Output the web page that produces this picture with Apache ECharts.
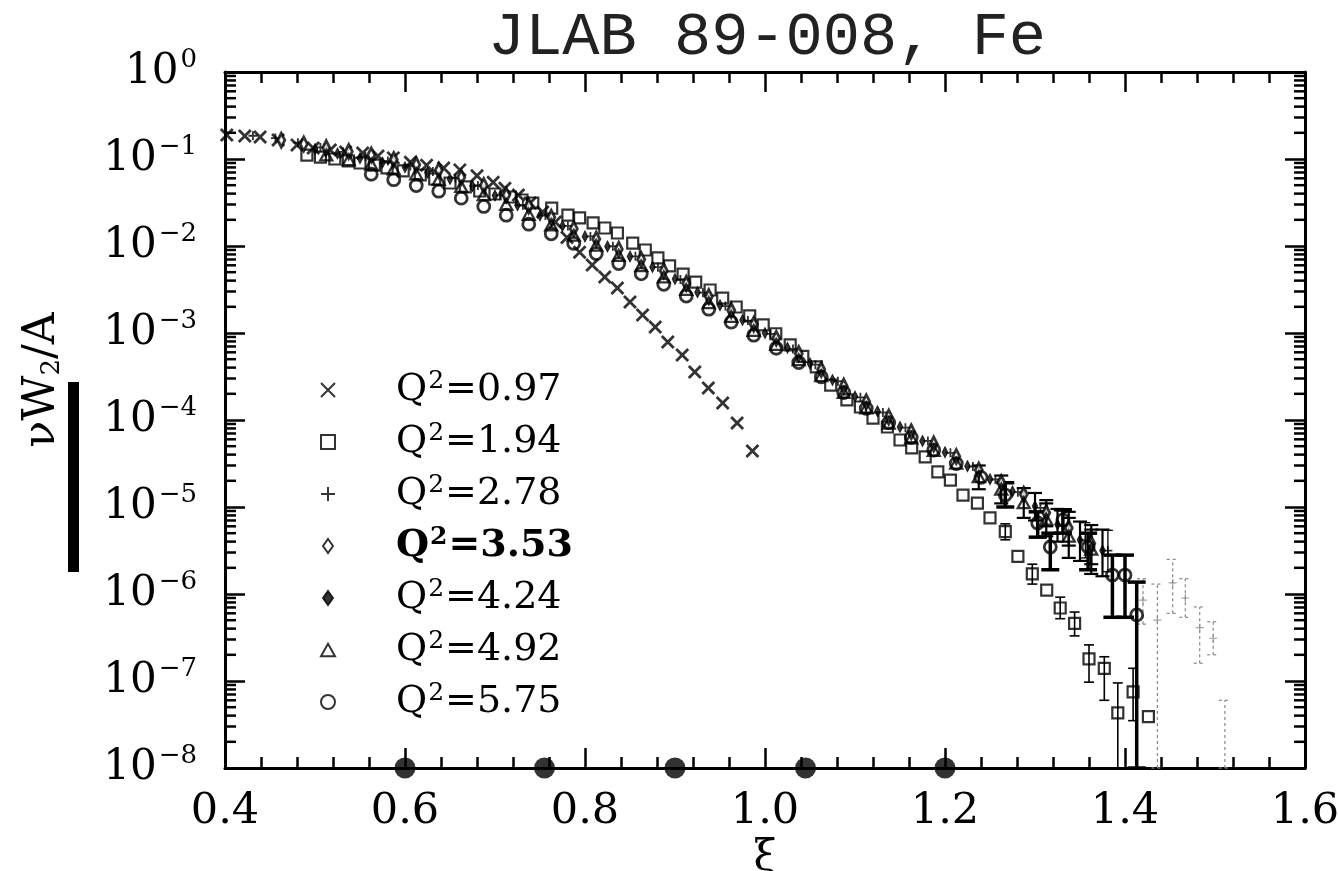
<!DOCTYPE html>
<html>
<head>
<meta charset="utf-8">
<script src="https://cdn.jsdelivr.net/npm/echarts@6/dist/echarts.min.js"></script>
<style>
  html, body { margin: 0; padding: 0; background: #fff; }
  #chart { width: 1338px; height: 871px; }
</style>
</head>
<body>
<div id="chart"></div>
<script>
// axis ticks
const xiTicks = [0.4, 0.6, 0.8, 1.0, 1.2, 1.4, 1.6];
const decades = [-8, -7, -6, -5, -4, -3, -2, -1];
const minorMantissas = [2, 3, 4, 5, 6, 7, 8, 9];

const legendNames = ['Q²=0.97', 'Q²=1.94', 'Q²=2.78', 'Q²=3.53', 'Q²=4.24', 'Q²=4.92', 'Q²=5.75'];

// [xi, nuW2/A]
const q097 = [[0.402,0.189],[0.422,0.184],[0.439,0.179],[0.459,0.165],[0.480,0.145],[0.498,0.134],[0.517,0.127],[0.534,0.120],[0.553,0.117],[0.570,0.108],[0.587,0.103],[0.606,0.092],[0.624,0.085],[0.643,0.079],[0.661,0.075],[0.680,0.064],[0.698,0.054],[0.711,0.046],[0.726,0.0386],[0.739,0.0312],[0.753,0.0246],[0.767,0.0189],[0.780,0.0125],[0.794,0.0085],[0.808,0.00605],[0.822,0.00440],[0.836,0.00329],[0.850,0.00227],[0.864,0.00161],[0.878,0.00117],[0.892,0.00079],[0.908,0.00056],[0.922,0.000356],[0.937,0.000233],[0.953,0.000157],[0.969,0.0000924],[0.986,0.0000440]];

const q194 = [[0.491,0.111],[0.506,0.105],[0.522,0.100],[0.537,0.095],[0.550,0.090],[0.566,0.085],[0.580,0.079],[0.598,0.073],[0.617,0.0655],[0.633,0.0589],[0.650,0.0530],[0.667,0.0477],[0.683,0.0429],[0.700,0.0396],[0.717,0.0366],[0.730,0.0338],[0.742,0.0312],[0.763,0.0273],[0.781,0.0227],[0.794,0.0210],[0.809,0.0184],[0.822,0.0161],[0.836,0.0141],[0.853,0.0108],[0.867,0.0090],[0.881,0.0073],[0.894,0.0059],[0.909,0.00476],[0.923,0.00385],[0.939,0.00312],[0.953,0.00252],[0.968,0.00199],[0.983,0.00157],[0.998,0.00124],[1.012,0.00098],[1.028,0.00073],[1.042,0.00054],[1.057,0.000407],[1.073,0.000252],[1.091,0.000170],[1.106,0.000141],[1.120,0.000105],[1.136,0.0000831],[1.150,0.0000589],[1.163,0.0000477],[1.178,0.0000376],[1.192,0.0000253],[1.206,0.0000204],[1.220,0.0000137],[1.236,0.0000111],[1.250,0.0000075],[1.267,0.0000052],[1.281,0.0000027],[1.297,0.0000017],[1.313,0.00000111],[1.328,0.00000069],[1.344,0.00000046],[1.360,0.00000018],[1.377,0.00000014],[1.392,0.000000043],[1.409,0.000000075],[1.426,0.000000039]];

const q278 = [[0.431,0.185],[0.456,0.174],[0.481,0.154],[0.506,0.136],[0.531,0.121],[0.556,0.107],[0.581,0.0948],[0.606,0.0832],[0.631,0.0719],[0.656,0.0603],[0.681,0.0495],[0.706,0.0383],[0.731,0.0295],[0.756,0.0224],[0.781,0.0170],[0.806,0.0129],[0.831,0.00993],[0.856,0.00760],[0.881,0.00571],[0.906,0.00411],[0.931,0.00291],[0.956,0.00204],[0.981,0.00139],[1.006,0.000977],[1.031,0.000656],[1.056,0.000432],[1.081,0.000279],[1.106,0.000182],[1.131,0.000122],[1.156,0.0000817],[1.181,0.0000575],[1.206,0.0000419],[1.231,0.0000292],[1.256,0.0000207],[1.281,0.0000148],[1.306,0.00000977],[1.331,0.00000612],[1.356,0.00000417],[1.381,0.00000316]];

// faint high-xi points of the same set
const q278tail = [[1.420,8.5e-7],[1.436,5.0e-7],[1.453,1.34e-6],[1.467,9.0e-7],[1.483,4.1e-7],[1.498,3.1e-7]];

const q353 = [[0.4625,0.164],[0.4875,0.149],[0.5125,0.135],[0.5375,0.122],[0.5625,0.111],[0.5875,0.0984],[0.6125,0.0861],[0.6375,0.0741],[0.6625,0.0617],[0.6875,0.0495],[0.7125,0.0385],[0.7375,0.0288],[0.7625,0.0214],[0.7875,0.0158],[0.8125,0.0120],[0.8375,0.00918],[0.8625,0.00700],[0.8875,0.00519],[0.9125,0.00372],[0.9375,0.00263],[0.9625,0.00182],[0.9875,0.00126],[1.0125,0.000871],[1.0375,0.000582],[1.0625,0.000380],[1.0875,0.000245],[1.1125,0.000162],[1.1375,0.000108],[1.1625,0.0000733],[1.1875,0.0000531],[1.2125,0.0000380],[1.2375,0.0000266],[1.2625,0.0000191],[1.2875,0.0000140],[1.3125,0.00000861],[1.3375,0.00000575],[1.3625,0.00000380]];

const q424 = [[0.500,0.130],[0.525,0.116],[0.550,0.102],[0.575,0.0912],[0.600,0.0804],[0.625,0.0700],[0.650,0.0589],[0.675,0.0490],[0.700,0.0380],[0.725,0.0295],[0.750,0.0224],[0.775,0.0170],[0.800,0.0129],[0.825,0.00989],[0.850,0.00759],[0.875,0.00575],[0.900,0.00417],[0.925,0.00295],[0.950,0.00209],[0.975,0.00141],[1.000,0.00100],[1.025,0.000676],[1.050,0.000447],[1.075,0.000288],[1.100,0.000186],[1.125,0.000126],[1.150,0.0000832],[1.175,0.0000575],[1.200,0.0000427],[1.225,0.0000295],[1.250,0.0000209],[1.275,0.0000151],[1.300,0.0000102],[1.325,0.00000631],[1.350,0.00000417],[1.375,0.00000316]];

const q492 = [[0.5125,0.111],[0.5375,0.0982],[0.5625,0.0869],[0.5875,0.0771],[0.6125,0.0675],[0.6375,0.0581],[0.6625,0.0483],[0.6875,0.0388],[0.7125,0.0301],[0.7375,0.0231],[0.7625,0.0175],[0.7875,0.0133],[0.8125,0.0102],[0.8375,0.00780],[0.8625,0.00594],[0.8875,0.00441],[0.9125,0.00316],[0.9375,0.00223],[0.9625,0.00155],[0.9875,0.00107],[1.0125,0.000740],[1.0375,0.000494],[1.0625,0.000323],[1.0875,0.000208],[1.1125,0.000138],[1.1375,0.0000920],[1.1625,0.0000622],[1.1875,0.0000446],[1.2125,0.0000319],[1.2375,0.0000223],[1.2625,0.0000160],[1.2875,0.0000112],[1.3125,0.00000723],[1.3375,0.00000461],[1.3625,0.00000327]];

const q575 = [[0.5625,0.0668],[0.5875,0.0579],[0.6125,0.0495],[0.6375,0.0427],[0.6625,0.0355],[0.6875,0.0285],[0.7125,0.0226],[0.7375,0.0178],[0.7625,0.0138],[0.7875,0.0107],[0.8125,0.00818],[0.8375,0.00628],[0.8625,0.00479],[0.8875,0.00363],[0.9125,0.00266],[0.9375,0.00188],[0.9625,0.00133],[0.9875,0.000944],[1.0125,0.000668],[1.0375,0.000457],[1.0625,0.000313],[1.0875,0.000207],[1.1125,0.000136],[1.1375,0.0000933],[1.1625,0.0000631],[1.1875,0.0000452],[1.2125,0.0000316],[1.240,0.0000219],[1.267,0.0000137],[1.303,0.00000655],[1.317,0.00000347],[1.331,0.00000710],[1.359,0.00000347],[1.386,0.00000165],[1.400,0.00000165],[1.413,0.000000574]];

// error bars [xi, low, high]
const err194 = [[1.267,4.2e-6,6.4e-6],[1.297,1.3e-6,2.2e-6],[1.328,5.2e-7,9.2e-7],[1.344,3.3e-7,6.2e-7],[1.360,9.7e-8,2.6e-7],[1.377,6.0e-8,1.9e-7],[1.392,1e-8,9.5e-8],[1.409,3.5e-8,1.4e-7]];
const err278 = [[1.331,4.0e-6,9.0e-6],[1.356,2.6e-6,6.6e-6],[1.381,1.8e-6,5.4e-6]];
const err278tail = [[1.420,4.5e-7,1.5e-6],[1.436,1e-8,1.3e-6],[1.453,6.0e-7,2.5e-6],[1.467,5.4e-7,1.5e-6],[1.483,1.6e-7,7.1e-7],[1.498,2.0e-7,4.8e-7],[1.511,1e-8,6.0e-8]];
const err353 = [[1.3125,6.0e-6,1.2e-5],[1.3375,3.6e-6,8.8e-6],[1.3625,2.2e-6,6.2e-6]];
const err424 = [[1.300,7.0e-6,1.45e-5],[1.325,4.0e-6,9.5e-6],[1.350,2.4e-6,6.8e-6],[1.375,1.6e-6,5.5e-6]];
const err492 = [[1.2375,1.6e-5,3.0e-5],[1.2625,1.1e-5,2.3e-5],[1.2875,7.5e-6,1.65e-5],[1.3125,4.6e-6,1.1e-5],[1.3375,2.6e-6,7.5e-6],[1.3625,1.7e-6,5.5e-6]];
const err575 = [[1.267,1.0e-5,1.9e-5],[1.303,4.5e-6,8.8e-6],[1.317,1.9e-6,5.0e-6],[1.331,5.0e-6,9.3e-6],[1.359,1.9e-6,5.0e-6],[1.386,5.4e-7,2.8e-6],[1.400,5.4e-7,2.8e-6],[1.413,1e-8,1.37e-6]];

// filled markers sitting on the xi axis
const axisMarkXi = [0.6, 0.755, 0.9, 1.045, 1.2];

const FONT = 'DejaVu Serif';
const XMIN = xiTicks[0], XMAX = xiTicks[xiTicks.length - 1];

const minorTickVals = [];
decades.forEach(d => minorMantissas.forEach(m => minorTickVals.push(m * Math.pow(10, d))));

const chart = echarts.init(document.getElementById('chart'), null, { renderer: 'canvas' });

const open = 'rgba(255,255,255,0)';
const CROSS = 'path://M0,0L10,10M10,0L0,10';
const PLUS = 'path://M5,0L5,10M0,5L10,5';
const DIAMOND = 'path://M5,0L10,7L5,14L0,7Z';
const SQUARE = 'path://M0,0L10,0L10,10L0,10Z';
const TRIANGLE = 'path://M5,0L10,9L0,9Z';

const scatter = (name, data, symbol, size, itemStyle) => ({
  type: 'scatter', name, data, symbol, symbolSize: size, symbolKeepAspect: true, itemStyle,
  z: 4, emphasis: { disabled: true }
});

const errorBars = (data, lw, cap, color, dash) => ({
  type: 'custom', data, z: 3, silent: true, clip: false,
  encode: { x: 0, y: [1, 2] },
  renderItem: (params, api) => {
    const xv = api.value(0);
    const lo = api.coord([xv, api.value(1)]);
    const hi = api.coord([xv, api.value(2)]);
    const style = { stroke: color, lineWidth: lw, lineDash: dash || null };
    return {
      type: 'group',
      children: [
        { type: 'line', shape: { x1: lo[0], y1: lo[1], x2: hi[0], y2: hi[1] }, style },
        { type: 'line', shape: { x1: lo[0] - cap, y1: lo[1], x2: lo[0] + cap, y2: lo[1] }, style },
        { type: 'line', shape: { x1: hi[0] - cap, y1: hi[1], x2: hi[0] + cap, y2: hi[1] }, style }
      ]
    };
  }
});

// log minor ticks (2..9) on both y sides
const logMinorTicks = {
  type: 'custom', z: 5, silent: true, clip: false,
  data: minorTickVals.map(v => [XMIN, v]),
  encode: { x: 0, y: 1 },
  renderItem: (params, api) => {
    const v = api.value(1);
    const l = api.coord([XMIN, v]);
    const r = api.coord([XMAX, v]);
    const style = { stroke: '#000', lineWidth: 2.5 };
    return {
      type: 'group',
      children: [
        { type: 'line', shape: { x1: l[0], y1: l[1], x2: l[0] + 11, y2: l[1] }, style },
        { type: 'line', shape: { x1: r[0] - 11, y1: r[1], x2: r[0], y2: r[1] }, style }
      ]
    };
  }
};

const axisLine = { show: true, onZero: false, lineStyle: { color: '#000', width: 3 } };
const xBase = {
  type: 'value', min: XMIN, max: XMAX, interval: 0.2,
  axisLine, splitLine: { show: false },
  axisTick: { show: true, inside: true, length: 20, lineStyle: { color: '#000', width: 2.5 } },
  minorTick: { show: true, splitNumber: 5, length: 11, lineStyle: { color: '#000', width: 2.5 } }
};
const yBase = {
  type: 'log', logBase: 10, min: 1e-8, max: 1, splitNumber: 8,
  axisLine, splitLine: { show: false },
  axisTick: { show: true, inside: true, length: 20, lineStyle: { color: '#000', width: 2.5 } }
};

const supExp = v => {
  const e = Math.round(Math.log10(v));
  return '{b|10}{e|' + (e < 0 ? '\u2212' + (-e) : e) + '}';
};

// gap token pushes the label away from its symbol, as in the original key
const legendLabel = n => {
  const val = n.split('=')[1];
  return n === 'Q²=3.53'
    ? '{gap|}{qb|Q}{sb|2}{qb|=' + val + '}'
    : '{gap|}{q|Q}{s|2}{q|=' + val + '}';
};

chart.setOption({
  animation: false,
  backgroundColor: '#fff',
  title: {
    text: 'JLAB 89-008, Fe', left: 762, top: 2, textAlign: 'center',
    textStyle: { fontFamily: 'Liberation Mono', fontSize: 62, fontWeight: 'normal', color: '#222' }
  },
  grid: { left: 225, right: 33, top: 72, bottom: 103, outerBoundsMode: 'none' },
  legend: {
    orient: 'vertical', left: 315, top: 364, itemWidth: 14, itemHeight: 14, itemGap: 10,
    selectedMode: false, data: legendNames,
    formatter: legendLabel,
    textStyle: {
      color: '#000', lineHeight: 42,
      rich: {
        gap: { width: 56 },
        q: { fontFamily: FONT, fontSize: 38, color: '#000' },
        s: { fontFamily: FONT, fontSize: 25, color: '#000', verticalAlign: 'top', padding: [0, 1, 20, 1] },
        qb: { fontFamily: FONT, fontSize: 38, fontWeight: 'bold', color: '#000' },
        sb: { fontFamily: FONT, fontSize: 25, fontWeight: 'bold', color: '#000', verticalAlign: 'top', padding: [0, 1, 20, 1] }
      }
    }
  },
  xAxis: [
    Object.assign({}, xBase, {
      position: 'bottom', name: 'ξ', nameLocation: 'middle', nameGap: 54,
      nameTextStyle: { fontFamily: FONT, fontSize: 42, color: '#000' },
      axisLabel: { margin: 22, fontFamily: FONT, fontSize: 43, color: '#000', formatter: v => v.toFixed(1) }
    }),
    Object.assign({}, xBase, { position: 'top', axisLabel: { show: false } })
  ],
  yAxis: [
    Object.assign({}, yBase, {
      position: 'left', name: '{n|νW}{s|2}{n|/A}', nameLocation: 'middle', nameGap: 160,
      nameTextStyle: {
        padding: [0, 0, 0, 80],
        rich: {
          n: { fontFamily: FONT, fontSize: 44, color: '#000' },
          s: { fontFamily: FONT, fontSize: 26, color: '#000', verticalAlign: 'bottom', padding: [18, 0, 0, 0] }
        }
      },
      axisLabel: {
        margin: 28, formatter: supExp,
        rich: {
          b: { fontFamily: FONT, fontSize: 42, color: '#000' },
          e: { fontFamily: FONT, fontSize: 26, color: '#000', verticalAlign: 'top', padding: [0, 0, 24, 2] }
        }
      }
    }),
    Object.assign({}, yBase, { position: 'right', axisLabel: { show: false } })
  ],
  graphic: [
    { type: 'rect', left: 68, top: 382, shape: { width: 11, height: 190 }, style: { fill: '#000' }, silent: true }
  ],
  series: [
    logMinorTicks,
    errorBars(err278tail, 1.2, 6, '#888', [3, 3]),
    errorBars(err194, 1.6, 5, '#000'),
    errorBars(err278, 1.3, 5, '#000'),
    errorBars(err353, 2.2, 7, '#000'),
    errorBars(err424, 2.2, 7, '#000'),
    errorBars(err492, 2.2, 7, '#000'),
    errorBars(err575, 3.5, 9, '#000'),
    scatter('Q²=0.97', q097, CROSS, 12, { color: open, borderColor: '#000', borderWidth: 2.8 }),
    scatter('Q²=1.94', q194, SQUARE, 11, { color: open, borderColor: '#000', borderWidth: 2.2 }),
    scatter('Q²=2.78', q278, PLUS, 9, { color: open, borderColor: '#000', borderWidth: 1.8 }),
    scatter('Q²=3.53', q353, DIAMOND, [10, 14], { color: '#fff', borderColor: '#000', borderWidth: 3 }),
    scatter('Q²=4.24', q424, DIAMOND, [8, 11], { color: '#000', borderColor: '#000', borderWidth: 1 }),
    scatter('Q²=4.92', q492, TRIANGLE, 12, { color: open, borderColor: '#000', borderWidth: 2.3 }),
    scatter('Q²=5.75', q575, 'circle', 12, { color: open, borderColor: '#000', borderWidth: 2.8 }),
    {
      type: 'scatter', data: q278tail, symbol: PLUS, symbolSize: 8, z: 4,
      itemStyle: { color: open, borderColor: '#888', borderWidth: 1.2 }, emphasis: { disabled: true }
    },
    {
      type: 'scatter', data: axisMarkXi.map(x => [x, 1e-8]), symbol: 'circle', symbolSize: 21,
      clip: false, z: 6, itemStyle: { color: '#000' }, emphasis: { disabled: true }
    }
  ]
});
</script>
</body>
</html>
